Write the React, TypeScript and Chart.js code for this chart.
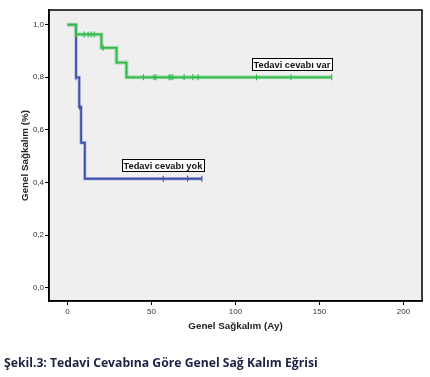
import React, { useEffect, useRef } from "react";
import { Chart, registerables } from "chart.js";

Chart.register(...registerables);

// Kaplan–Meier steps: [time (months), survival]
const varTimes = [0, 5, 20.2, 29.2, 35.1, 157.3];
const varSurv = [1.0, 0.963, 0.912, 0.856, 0.8, 0.8];
const varCensorTimes = [5, 9.9, 12.3, 14.1, 15.9, 21.2, 45.2, 51.5, 52.6, 60.5, 61.5, 62.7, 69.4, 74.6, 77.7, 112.5, 133, 157.3];
const varCensorSurv = [0.963, 0.963, 0.963, 0.963, 0.963, 0.912, 0.8, 0.8, 0.8, 0.8, 0.8, 0.8, 0.8, 0.8, 0.8, 0.8, 0.8, 0.8];

const yokTimes = [0, 5.1, 7.0, 8.1, 10.3, 80];
const yokSurv = [1.0, 0.8, 0.687, 0.551, 0.414, 0.414];
const yokCensorTimes = [5.1, 7.3, 57, 71.5, 80];
const yokCensorSurv = [0.8, 0.687, 0.414, 0.414, 0.414];

const xTicks = [0, 50, 100, 150, 200];
const yTicks = [0, 0.2, 0.4, 0.6, 0.8, 1.0];

const labelVar = "Tedavi cevabı var";
const labelYok = "Tedavi cevabı yok";
const xTitle = "Genel Sağkalım (Ay)";
const yTitle = "Genel Sağkalım (%)";
const caption = "Şekil.3: Tedavi Cevabına Göre Genel Sağ Kalım Eğrisi";

const GREEN = "#2cb84a";
const GREEN_HALO = "rgba(150,215,160,0.8)";
const BLUE = "#3f51a8";
const BLUE_HALO = "rgba(160,170,215,0.7)";
const FONT = "'Liberation Sans', Arial, sans-serif";

const pts = (xs: number[], ys: number[]) => xs.map((x, i) => ({ x, y: ys[i] }));

export default function App() {
  const ref = useRef<HTMLCanvasElement>(null);
  useEffect(() => {
    if (!ref.current) return;
    const bgPlugin = {
      id: "bg",
      beforeDraw(chart: any) {
        const { ctx, chartArea: a } = chart;
        ctx.save();
        ctx.fillStyle = "#efefef";
        ctx.fillRect(a.left, a.top, a.right - a.left, a.bottom - a.top);
        ctx.restore();
      },
      afterDraw(chart: any) {
        const { ctx, chartArea: a, scales } = chart;
        ctx.save();
        ctx.strokeStyle = "#000";
        ctx.lineWidth = 1.5;
        ctx.strokeRect(a.left, a.top, a.right - a.left, a.bottom - a.top);
        const drawBox = (text: string, tx: number, ty: number) => {
          const x = Math.round(scales.x.getPixelForValue(tx));
          const y = Math.round(scales.y.getPixelForValue(ty));
          ctx.font = `bold 9.3px ${FONT}`;
          const w = Math.round(ctx.measureText(text).width + 3);
          const h = 12;
          ctx.fillStyle = "#fff";
          ctx.fillRect(x, y - h / 2, w, h);
          ctx.strokeStyle = "#000";
          ctx.lineWidth = 1;
          ctx.strokeRect(x + 0.5, y - h / 2 + 0.5, w, h);
          ctx.fillStyle = "#111";
          ctx.textBaseline = "middle";
          ctx.textAlign = "left";
          ctx.fillText(text, x + 1.5, y + 1);
        };
        drawBox(labelVar, 110, 0.851);
        drawBox(labelYok, 32.3, 0.466);
        ctx.restore();
      },
    };

    const chart = new Chart(ref.current, {
      type: "line",
      data: {
        datasets: [
          { data: pts(varCensorTimes, varCensorSurv), showLine: false, pointStyle: "line", rotation: 90, pointRadius: 3, borderColor: GREEN, borderWidth: 1.1, order: 0 } as any,
          { data: pts(varTimes, varSurv), stepped: true, borderColor: GREEN, borderWidth: 1.8, pointRadius: 0, order: 1 } as any,
          { data: pts(varTimes, varSurv), stepped: true, borderColor: GREEN_HALO, borderWidth: 4, pointRadius: 0, order: 2 } as any,
          { data: pts(yokCensorTimes, yokCensorSurv), showLine: false, pointStyle: "line", rotation: 90, pointRadius: 3, borderColor: BLUE, borderWidth: 1.1, order: 3 } as any,
          { data: pts(yokTimes, yokSurv), stepped: true, borderColor: BLUE, borderWidth: 1.8, pointRadius: 0, order: 4 } as any,
          { data: pts(yokTimes, yokSurv), stepped: true, borderColor: BLUE_HALO, borderWidth: 3.5, pointRadius: 0, order: 5 } as any,
        ],
      },
      options: {
        animation: false,
        responsive: false,
        layout: { padding: { top: 10, right: 8, bottom: 41, left: 0 } },
        plugins: { legend: { display: false }, tooltip: { enabled: false } },
        scales: {
          x: {
            type: "linear",
            min: -11,
            max: 211,
            afterBuildTicks(s: any) { s.ticks = xTicks.map((v) => ({ value: v })); },
            afterFit(s: any) { s.height = 35; },
            grid: { drawOnChartArea: false, drawTicks: true, tickLength: 4, color: "#000", lineWidth: 1 },
            border: { display: true, color: "#000", width: 1.5 },
            ticks: { color: "#333", font: { size: 8, family: FONT }, padding: 2, callback: (v: any) => String(v) },
            title: { display: true, text: xTitle, color: "#222", font: { size: 9.8, weight: "bold", family: FONT }, padding: { top: 0, bottom: 4 } },
          },
          y: {
            type: "linear",
            min: -0.051,
            max: 1.056,
            afterBuildTicks(s: any) { s.ticks = yTicks.map((v) => ({ value: v })); },
            afterFit(s: any) { s.width = 49; },
            grid: { drawOnChartArea: false, drawTicks: true, tickLength: 4, color: "#000", lineWidth: 1 },
            border: { display: true, color: "#000", width: 1.5 },
            ticks: { color: "#333", font: { size: 8, family: FONT }, padding: 1, callback: (v: any) => Number(v).toFixed(1).replace(".", ",") },
            title: { display: true, text: yTitle, color: "#222", font: { size: 9.8, weight: "bold", family: FONT }, padding: { top: 19, bottom: 0 } },
          },
        },
      },
      plugins: [bgPlugin],
    } as any);
    return () => chart.destroy();
  }, []);

  return (
    <div style={{ position: "fixed", left: 0, top: 0, width: 430, height: 377, background: "#fff" }}>
      <canvas ref={ref} width={430} height={377} style={{ display: "block" }} />
      <div
        style={{
          position: "absolute",
          left: 4,
          top: 354,
          fontFamily: "'Open Sans', 'Noto Sans', sans-serif",
          fontWeight: 700,
          fontSize: 12.2,
          color: "#1d2243",
          whiteSpace: "nowrap",
        }}
      >
        {caption}
      </div>
    </div>
  );
}
